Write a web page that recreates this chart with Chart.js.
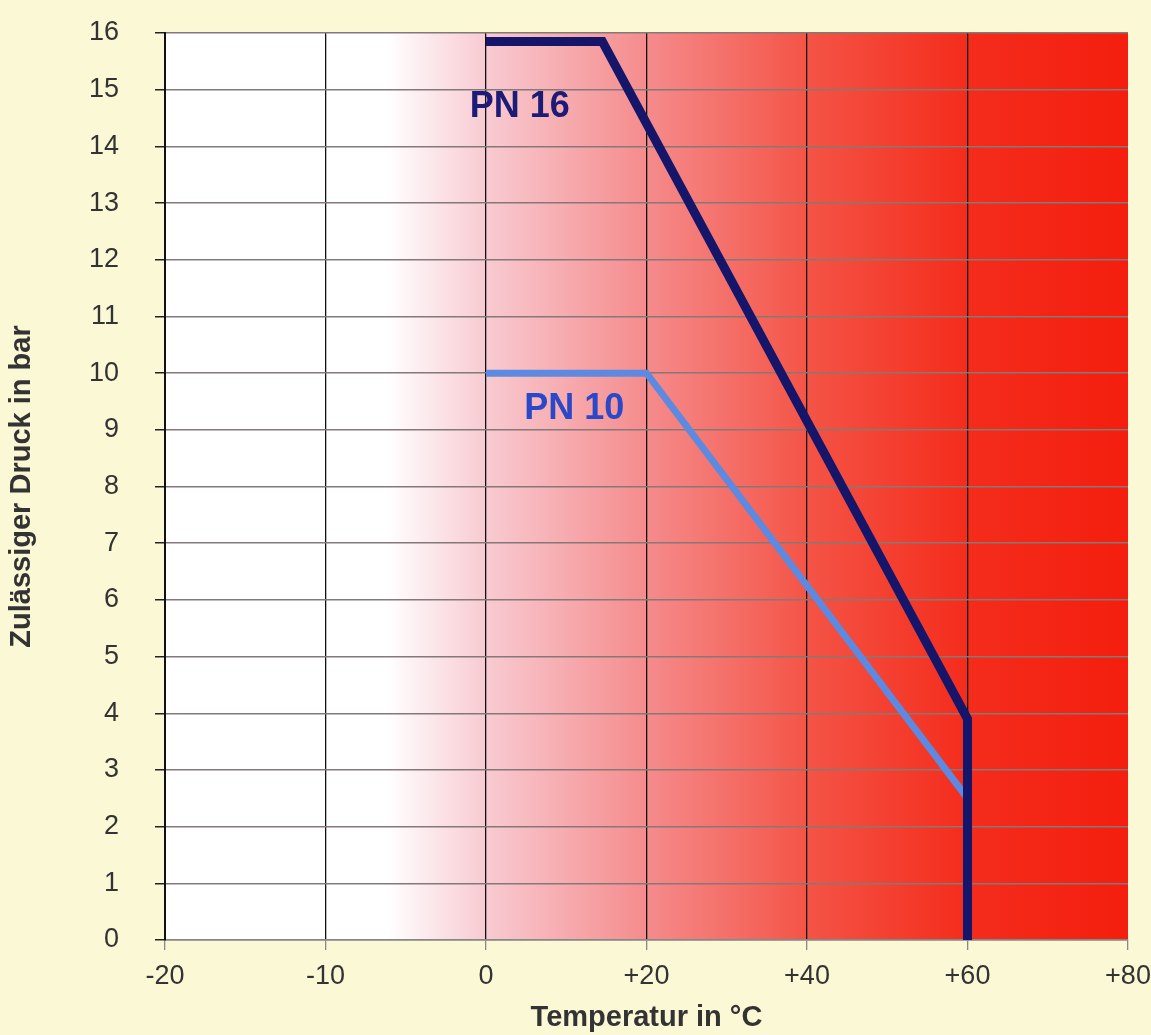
<!DOCTYPE html>
<html>
<head>
<meta charset="utf-8">
<script src="https://cdn.jsdelivr.net/npm/chart.js@4"></script>
<style>
  html, body { margin: 0; padding: 0; background: #fbf8d6; }
  #wrap { width: 1151px; height: 1035px; }
</style>
</head>
<body>
<div id="wrap"><canvas id="myChart" width="1151" height="1035"></canvas></div>
<script>
// x axis: the tick labels are evenly spaced although the steps differ (10 then 20)
const xLabels = ['-20', '-10', '0', '+20', '+40', '+60', '+80']
const xTemps = [-20, -10, 0, 20, 40, 60, 80]

// PN 16 curve (temperature in °C, pressure in bar)
const pn16Temp = [0, 14.5, 60, 60]
const pn16Bar = [15.85, 15.85, 3.9, 0]

// PN 10 curve
const pn10Temp = [0, 20, 60]
const pn10Bar = [10, 10, 2.5]

// convert a temperature to the position on the evenly spaced axis
const tempToPos = (t) => {
    for (var i = 0; i < xTemps.length - 1; i++) {
        if (t <= xTemps[i + 1]) {
            return i + (t - xTemps[i]) / (xTemps[i + 1] - xTemps[i])
        }
    }
    return xTemps.length - 1
}

const toPoints = (temps, bars) => temps.map((t, i) => ({ x: tempToPos(t), y: bars[i] }))

const FONT = '"Liberation Sans", Arial, sans-serif'

// background gradient of the plot area
const bgPlugin = {
    id: 'bg',
    beforeDraw(chart) {
        const { ctx, chartArea: a } = chart
        const g = ctx.createLinearGradient(a.left, 0, a.right, 0)
        g.addColorStop(0, '#ffffff')
        g.addColorStop(0.23, '#ffffff')
        g.addColorStop(0.33, '#f8ccd3')
        g.addColorStop(0.5, '#f58b8c')
        g.addColorStop(0.667, '#f45446')
        g.addColorStop(0.834, '#f42c1c')
        g.addColorStop(1, '#f41e0e')
        ctx.save()
        ctx.fillStyle = g
        ctx.fillRect(a.left, a.top, a.right - a.left, a.bottom - a.top)
        ctx.restore()
    }
}

// curve labels
const curveLabels = [
    { text: 'PN 16', temp: 4.2, bar: 14.7, color: '#1c1c78' },
    { text: 'PN 10', temp: 11, bar: 9.37, color: '#2a48c8' }
]
const labelPlugin = {
    id: 'curveLabels',
    afterDatasetsDraw(chart) {
        const ctx = chart.ctx
        const xs = chart.scales.x
        const ys = chart.scales.y
        ctx.save()
        ctx.font = 'bold 36px ' + FONT
        ctx.textAlign = 'center'
        ctx.textBaseline = 'middle'
        curveLabels.forEach(l => {
            ctx.fillStyle = l.color
            ctx.fillText(l.text, xs.getPixelForValue(tempToPos(l.temp)), ys.getPixelForValue(l.bar))
        })
        ctx.restore()
    }
}

var ctx = document.getElementById('myChart')
let chart = new Chart(ctx, {
    type: 'line',
    data: {
        datasets: [{
            label: 'PN 16',
            data: toPoints(pn16Temp, pn16Bar),
            borderColor: '#15156a',
            borderWidth: 9,
            pointRadius: 0,
            borderJoinStyle: 'miter',
            tension: 0
        }, {
            label: 'PN 10',
            data: toPoints(pn10Temp, pn10Bar),
            borderColor: '#5d8ae0',
            borderWidth: 7,
            pointRadius: 0,
            borderJoinStyle: 'miter',
            tension: 0
        }]
    },
    options: {
        responsive: false,
        animation: false,
        layout: { padding: { left: 0, right: 23, top: 33, bottom: 0 } },
        plugins: {
            legend: { display: false },
            tooltip: { enabled: false }
        },
        scales: {
            x: {
                type: 'linear',
                min: 0,
                max: xLabels.length - 1,
                afterFit: s => { s.height = 95; s.paddingLeft = 0; s.paddingRight = 0 },
                ticks: {
                    stepSize: 1,
                    padding: 10,
                    color: '#333333',
                    font: { family: FONT, size: 27 },
                    callback: v => xLabels[v]
                },
                grid: {
                    color: c => c.index === xLabels.length - 1 ? 'rgba(0,0,0,0)' : '#111111',
                    lineWidth: 1.3,
                    tickLength: 10,
                    tickColor: '#888888'
                },
                border: { color: '#888888', width: 1.5 },
                title: {
                    display: true,
                    text: 'Temperatur in °C',
                    color: '#333333',
                    font: { family: FONT, size: 29, weight: 'bold' },
                    padding: { top: 0, bottom: 0 }
                }
            },
            y: {
                min: 0,
                max: 16,
                afterFit: s => { s.width = 165; s.paddingTop = 0; s.paddingBottom = 0 },
                ticks: {
                    stepSize: 1,
                    padding: 36,
                    color: '#333333',
                    font: { family: FONT, size: 27 }
                },
                grid: {
                    color: '#857878',
                    lineWidth: 1.5,
                    tickLength: 10,
                    tickColor: '#222222'
                },
                border: { color: '#111111', width: 2 },
                title: {
                    display: true,
                    text: 'Zulässiger Druck in bar',
                    color: '#333333',
                    font: { family: FONT, size: 29, weight: 'bold' },
                    padding: { top: 5, bottom: 0 }
                }
            }
        }
    },
    plugins: [bgPlugin, labelPlugin]
})
</script>
</body>
</html>
